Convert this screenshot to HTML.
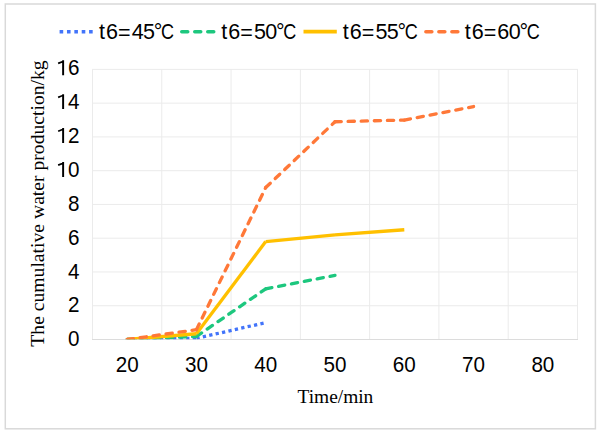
<!DOCTYPE html>
<html><head><meta charset="utf-8"><style>
html,body{margin:0;padding:0;background:#fff;width:600px;height:437px;overflow:hidden}
svg{display:block}
</style></head><body>
<svg width="600" height="437" viewBox="0 0 600 437">
<rect x="0" y="0" width="600" height="437" fill="#fff"/>
<rect x="5.3" y="4.0" width="590.1" height="424.8" fill="none" stroke="#d9d9d9" stroke-width="1.5"/>
<g stroke="#ebebeb" stroke-width="1"><line x1="92.0" y1="69.40" x2="578.0" y2="69.40"/><line x1="92.0" y1="103.16" x2="578.0" y2="103.16"/><line x1="92.0" y1="136.93" x2="578.0" y2="136.93"/><line x1="92.0" y1="170.69" x2="578.0" y2="170.69"/><line x1="92.0" y1="204.45" x2="578.0" y2="204.45"/><line x1="92.0" y1="238.21" x2="578.0" y2="238.21"/><line x1="92.0" y1="271.98" x2="578.0" y2="271.98"/><line x1="92.0" y1="305.74" x2="578.0" y2="305.74"/><line x1="92.50" y1="69.4" x2="92.50" y2="339.5"/><line x1="161.79" y1="69.4" x2="161.79" y2="339.5"/><line x1="231.07" y1="69.4" x2="231.07" y2="339.5"/><line x1="300.36" y1="69.4" x2="300.36" y2="339.5"/><line x1="369.64" y1="69.4" x2="369.64" y2="339.5"/><line x1="438.93" y1="69.4" x2="438.93" y2="339.5"/><line x1="508.21" y1="69.4" x2="508.21" y2="339.5"/><line x1="577.50" y1="69.4" x2="577.50" y2="339.5"/></g>
<line x1="92.0" y1="339.5" x2="578.0" y2="339.5" stroke="#dcdcdc" stroke-width="1"/>
<clipPath id="pc"><rect x="80" y="55" width="510" height="284.2"/></clipPath><g clip-path="url(#pc)">
<g stroke="#4274FA" fill="none" stroke-width="3.3" stroke-dasharray="3.28 3.28" stroke-linecap="butt"><line x1="127.14" y1="339.50" x2="196.43" y2="338.32"/><line x1="196.43" y1="338.32" x2="265.71" y2="322.62"/></g>
<g stroke="#1DC77E" fill="none" stroke-width="3.3" stroke-dasharray="6.3 6.8" stroke-linecap="round"><line x1="127.14" y1="339.50" x2="196.43" y2="336.46"/><line x1="196.43" y1="336.46" x2="265.71" y2="288.86"/><line x1="265.71" y1="288.86" x2="335.00" y2="275.35"/></g>
<g stroke="#FFC000" fill="none" stroke-width="3.3" stroke-linecap="butt"><line x1="127.14" y1="339.50" x2="196.43" y2="333.76"/><line x1="196.43" y1="333.76" x2="265.71" y2="241.59"/><line x1="265.71" y1="241.59" x2="335.00" y2="234.84"/><line x1="335.00" y1="234.84" x2="404.29" y2="229.77"/></g>
<g stroke="#FF7838" fill="none" stroke-width="3.3" stroke-dasharray="6.3 6.8" stroke-linecap="round"><line x1="127.14" y1="339.50" x2="196.43" y2="329.71"/><line x1="196.43" y1="329.71" x2="265.71" y2="187.57"/><line x1="265.71" y1="187.57" x2="335.00" y2="121.73"/><line x1="335.00" y1="121.73" x2="404.29" y2="120.04"/><line x1="404.29" y1="120.04" x2="473.57" y2="106.54"/></g>
</g>
<g font-family="Liberation Sans" font-size="21.5" fill="#000"><text transform="translate(79.4,75.20) scale(0.96,1.055)" text-anchor="end">6</text><text transform="translate(79.4,109.09) scale(0.96,1.055)" text-anchor="end">4</text><text transform="translate(79.4,142.99) scale(0.96,1.055)" text-anchor="end">2</text><text transform="translate(79.4,176.88) scale(0.96,1.055)" text-anchor="end">0</text><text transform="translate(79.4,210.77) scale(0.96,1.055)" text-anchor="end">8</text><text transform="translate(79.4,244.66) scale(0.96,1.055)" text-anchor="end">6</text><text transform="translate(79.4,278.56) scale(0.96,1.055)" text-anchor="end">4</text><text transform="translate(79.4,312.45) scale(0.96,1.055)" text-anchor="end">2</text><text transform="translate(79.4,346.34) scale(0.96,1.055)" text-anchor="end">0</text></g>
<g fill="#000"><path d="M62.15 60.30H64.1V75.20H62.15Z M64.1 60.30L62.15 62.70L58.5 64.30L57.8 62.60Z"/><path d="M62.15 94.19H64.1V109.09H62.15Z M64.1 94.19L62.15 96.59L58.5 98.19L57.8 96.49Z"/><path d="M62.15 128.09H64.1V142.99H62.15Z M64.1 128.09L62.15 130.49L58.5 132.09L57.8 130.39Z"/><path d="M62.15 161.98H64.1V176.88H62.15Z M64.1 161.98L62.15 164.38L58.5 165.98L57.8 164.28Z"/></g>
<g font-family="Liberation Sans" font-size="21.5" fill="#000"><text transform="translate(127.14,371.6) scale(0.96,1.055)" text-anchor="middle">20</text><text transform="translate(196.43,371.6) scale(0.96,1.055)" text-anchor="middle">30</text><text transform="translate(265.71,371.6) scale(0.96,1.055)" text-anchor="middle">40</text><text transform="translate(335.00,371.6) scale(0.96,1.055)" text-anchor="middle">50</text><text transform="translate(404.29,371.6) scale(0.96,1.055)" text-anchor="middle">60</text><text transform="translate(473.57,371.6) scale(0.96,1.055)" text-anchor="middle">70</text><text transform="translate(542.86,371.6) scale(0.96,1.055)" text-anchor="middle">80</text></g>
<text x="335.4" y="402.5" text-anchor="middle" font-family="Liberation Serif" font-size="19.4" fill="#000">Time/min</text>
<text transform="translate(43.8,203.5) rotate(-90)" text-anchor="middle" font-family="Liberation Serif" font-size="19.65" fill="#000">The cumulative water production/kg</text>
<line x1="59.60" y1="31.7" x2="92.90" y2="31.7" stroke="#4274FA" stroke-width="3.6" stroke-dasharray="3.6 3.77"/><text x="98.93 105.95 117.93 131.69 142.94 153.71" y="38.9 38.9 40.0 38.9 38.9 38.9" font-family="Liberation Sans" font-size="21.5" fill="#000">t6=45°</text><text transform="translate(167.40,38.9) scale(0.84,1)" text-anchor="middle" font-family="Liberation Sans" font-size="21.5" fill="#000">C</text><line x1="181.75" y1="31.7" x2="214.05" y2="31.7" stroke="#1DC77E" stroke-width="3.5" stroke-dasharray="6.0 7.0" stroke-linecap="round"/><text x="221.23 228.25 240.23 253.94 265.22 276.01" y="38.9 38.9 40.0 38.9 38.9 38.9" font-family="Liberation Sans" font-size="21.5" fill="#000">t6=50°</text><text transform="translate(289.70,38.9) scale(0.84,1)" text-anchor="middle" font-family="Liberation Sans" font-size="21.5" fill="#000">C</text><line x1="303.50" y1="31.7" x2="336.80" y2="31.7" stroke="#FFC000" stroke-width="3.7"/><text x="342.83 349.85 361.83 375.54 386.84 397.61" y="38.9 38.9 40.0 38.9 38.9 38.9" font-family="Liberation Sans" font-size="21.5" fill="#000">t6=55°</text><text transform="translate(411.30,38.9) scale(0.84,1)" text-anchor="middle" font-family="Liberation Sans" font-size="21.5" fill="#000">C</text><line x1="425.85" y1="31.7" x2="458.15" y2="31.7" stroke="#FF7838" stroke-width="3.5" stroke-dasharray="6.0 7.0" stroke-linecap="round"/><text x="464.73 471.75 483.73 497.35 508.72 519.51" y="38.9 38.9 40.0 38.9 38.9 38.9" font-family="Liberation Sans" font-size="21.5" fill="#000">t6=60°</text><text transform="translate(533.20,38.9) scale(0.84,1)" text-anchor="middle" font-family="Liberation Sans" font-size="21.5" fill="#000">C</text>
</svg>
</body></html>
